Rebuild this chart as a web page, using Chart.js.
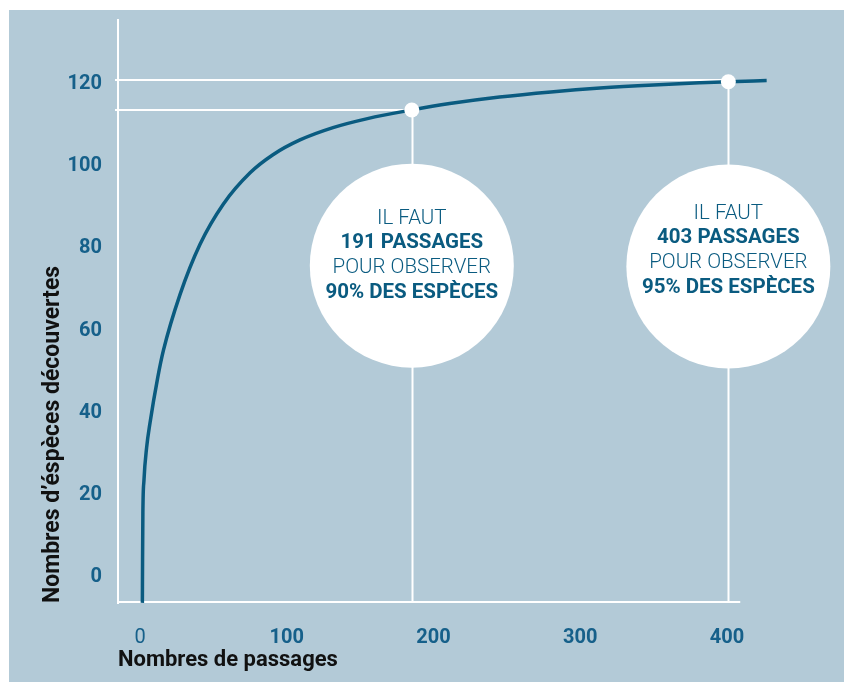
<!DOCTYPE html>
<html>
<head>
<meta charset="utf-8">
<script src="https://cdn.jsdelivr.net/npm/chart.js@4.4.1/dist/chart.umd.min.js"></script>
<style>
  html, body { margin: 0; padding: 0; background: #ffffff; }
  canvas { display: block; }
</style>
</head>
<body>
<canvas id="c" width="844" height="682"></canvas>
<script>
// ---- data ----
const curveX = [1.6, 1.75, 1.95, 2.7, 4.5, 6.8, 12.1, 15.9, 27.3, 40.9, 56.6, 75, 90.6, 109, 131.5, 155, 185.2, 211, 245, 280, 313.5, 350, 381.6, 400.9, 427];
const curveY = [-6.3, 5, 15.6, 23.6, 31.5, 37.5, 48.6, 55.1, 68.8, 81.0, 90.7, 98.4, 102.8, 106.4, 109.4, 111.6, 113.7, 115.25, 116.85, 118.1, 119.05, 119.8, 120.3, 120.56, 120.85];
const xTicks = [0, 100, 200, 300, 400];
const yTicks = [0, 20, 40, 60, 80, 100, 120];
const markX = [185.2, 400.9];
const markY = [113.7, 120.56];
const refLineY = [113.7, 121.0];
const bubbleY = [75.8, 75.6];
const passages = [191, 403];
const percents = [90, 95];
const xTitle = 'Nombres de passages';
const yTitle = 'Nombres d\u2019éspèces découvertes';

// ---- styles ----
const BG = '#b3cad7';
const DARK = '#0a5b80';
const TICK = '#16608a';
const FONT = 'Roboto, "DejaVu Sans", sans-serif';

const curveData = curveX.map((x, i) => ({ x, y: curveY[i] }));
const markData = markX.map((x, i) => ({ x, y: markY[i] }));
const bubbleData = markX.map((x, i) => ({ x, y: bubbleY[i], r: 102 }));

const decor = {
  id: 'decor',
  beforeDraw(chart) {
    const ctx = chart.ctx;
    ctx.save();
    ctx.fillStyle = BG;
    ctx.fillRect(9, 10, chart.width - 9, chart.height - 10);
    ctx.restore();
  },
  beforeDatasetsDraw(chart) {
    const { ctx, scales: { x, y }, chartArea } = chart;
    ctx.save();
    ctx.strokeStyle = '#ffffff';
    ctx.lineWidth = 2;
    // x axis line
    ctx.beginPath();
    ctx.moveTo(chartArea.left - 1, y.getPixelForValue(y.min) - 1);
    ctx.lineTo(x.getPixelForValue(409), y.getPixelForValue(y.min) - 1);
    ctx.stroke();
    // horizontal reference lines
    refLineY.forEach((v, i) => {
      const py = Math.round(y.getPixelForValue(v));
      ctx.beginPath();
      ctx.moveTo(chartArea.left - 3, py);
      ctx.lineTo(x.getPixelForValue(markX[i]), py);
      ctx.stroke();
    });
    // vertical lines
    markX.forEach((v, i) => {
      const px = Math.round(x.getPixelForValue(v)) + 0.5;
      ctx.beginPath();
      ctx.moveTo(px, y.getPixelForValue(markY[i]));
      ctx.lineTo(px, y.getPixelForValue(y.min) - 1);
      ctx.stroke();
    });
    ctx.restore();
  },
  afterDatasetsDraw(chart) {
    const { ctx, scales: { x, y } } = chart;
    ctx.save();
    ctx.textAlign = 'center';
    ctx.textBaseline = 'middle';
    ctx.fillStyle = DARK;
    const dys = [-10, -16];
    markX.forEach((v, i) => {
      const cx = x.getPixelForValue(v);
      const cy = y.getPixelForValue(bubbleY[i]) + dys[i];
      const lines = [
        ['IL FAUT', false],
        [passages[i] + ' PASSAGES', true],
        ['POUR OBSERVER', false],
        [percents[i] + '% DES ESPÈCES', true]
      ];
      const step = 24.7;
      lines.forEach((l, k) => {
        ctx.font = (l[1] ? 'bold ' : '300 ') + '20.5px ' + FONT;
        ctx.fillText(l[0], cx, cy + (k - 1.5) * step);
      });
    });
    ctx.restore();
  }
};

new Chart(document.getElementById('c'), {
  type: 'scatter',
  data: {
    datasets: [
      {
        type: 'scatter',
        data: markData,
        pointRadius: 7.5,
        pointBackgroundColor: '#ffffff',
        pointBorderWidth: 0,
        pointHoverRadius: 7.5
      },
      {
        type: 'line',
        data: curveData,
        borderColor: DARK,
        borderWidth: 3.5,
        pointRadius: 0,
        cubicInterpolationMode: 'monotone',
        fill: false,
        clip: false
      },
      {
        type: 'bubble',
        data: bubbleData,
        backgroundColor: '#ffffff',
        borderWidth: 0,
        hoverRadius: 0
      }
    ]
  },
  options: {
    responsive: false,
    devicePixelRatio: 1,
    animation: false,
    events: [],
    layout: { autoPadding: false, padding: { left: 0, top: 20, right: 0, bottom: 0 } },
    plugins: { legend: { display: false }, tooltip: { enabled: false } },
    scales: {
      x: {
        type: 'linear',
        min: -15,
        max: 479.7,
        afterFit(s) { s.height = 79; s.paddingLeft = 0; s.paddingRight = 0; },
        afterBuildTicks(s) { s.ticks = xTicks.map(v => ({ value: v })); },
        grid: { display: false, drawTicks: false },
        border: { display: false },
        ticks: {
          padding: 23,
          color: TICK,
          maxRotation: 0,
          font: (c) => ({ family: FONT, size: 20, weight: (c.tick && c.tick.value === 0) ? 'normal' : 'bold' })
        },
        title: {
          display: true,
          text: xTitle,
          align: 'start',
          color: '#111111',
          font: { family: FONT, size: 22, weight: 'bold' },
          padding: { top: 0, bottom: 8 }
        }
      },
      y: {
        type: 'linear',
        min: -6.33,
        max: 135.6,
        afterFit(s) { s.width = 118; s.paddingTop = 0; s.paddingBottom = 0; },
        afterBuildTicks(s) { s.ticks = yTicks.map(v => ({ value: v })); },
        grid: { display: false, drawTicks: false },
        border: { display: true, color: '#ffffff', width: 2 },
        ticks: {
          padding: 16,
          color: TICK,
          font: { family: FONT, size: 20, weight: 'bold' }
        },
        title: {
          display: true,
          text: yTitle,
          align: 'start',
          color: '#111111',
          font: { family: FONT, size: 23, weight: 'bold' },
          padding: { top: 39, bottom: 0 }
        }
      }
    }
  },
  plugins: [decor]
});
</script>
</body>
</html>
